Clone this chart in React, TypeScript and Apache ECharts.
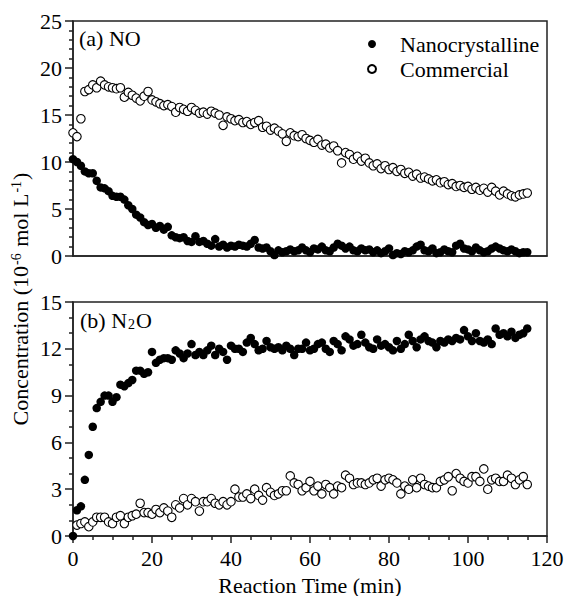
import React, { useEffect, useRef } from "react";
import * as echarts from "echarts";

// Sampling interval (minutes); value arrays are indexed from t = 0
const SAMPLE_MIN = 1;

const NO_NANO = [
  10.3, 10.0, 9.6, 9.0, 8.8, 8.8, 8.0, 7.3, 7.2, 6.9,
  6.4, 6.3, 6.3, 6.0, 5.4, 5.0, 4.4, 4.1, 3.6, 3.3,
  3.4, 3.0, 3.2, 2.8, 3.1, 2.2, 2.0, 1.9, 2.0, 1.6,
  1.5, 2.1, 1.5, 1.6, 1.3, 1.1, 1.8, 1.0, 1.2, 0.9,
  1.1, 1.0, 1.2, 1.1, 1.0, 1.3, 1.7, 0.9, 0.8, 0.9,
  0.5, 0.1, 0.6, 0.4, 0.5, 0.7, 0.5, 0.6, 0.9, 0.6,
  0.4, 0.8, 0.7, 1.0, 0.6, 0.5, 0.9, 1.3, 1.1, 0.8,
  1.0, 0.6, 0.5, 0.8, 0.6, 0.7, 0.4, 0.6, 0.3, 0.5,
  0.8, 0.1, 0.3, 0.2, 0.5, 0.4, 0.6, 1.0, 1.2, 0.6,
  0.5, 0.8, 0.3, 0.4, 0.7, 0.5, 0.4, 1.1, 1.3, 0.8,
  0.7, 0.5, 0.9, 0.6, 0.4, 0.5, 0.8, 1.0, 0.8, 0.6,
  0.5, 0.7, 0.5, 0.3, 0.4, 0.4,
];

const NO_COMM = [
  13.1, 12.7, 14.6, 17.5, 17.7, 18.2, 17.9, 18.6, 18.2, 18.0,
  17.9, 17.8, 17.9, 16.9, 17.4, 17.1, 16.8, 16.5, 17.0, 17.5,
  16.6, 16.4, 16.2, 16.0, 16.1, 15.9, 15.3, 15.8, 15.6, 15.4,
  15.8, 15.5, 15.2, 15.3, 15.1, 15.4, 15.2, 15.0, 13.9, 14.8,
  14.6, 14.4, 14.5, 14.2, 14.3, 14.0, 14.2, 14.4, 13.7, 13.8,
  13.4, 13.6, 13.3, 13.0, 12.2, 13.1, 12.8, 12.7, 12.9, 12.5,
  12.3, 12.1, 12.4, 11.8, 11.9, 11.5, 11.7, 11.2, 9.9, 11.0,
  10.8, 10.3, 10.6, 10.1, 10.4, 9.9, 9.6, 9.8, 9.3, 9.6,
  9.2, 9.4, 9.0, 9.2, 8.8, 8.9, 8.5, 8.7, 8.3, 8.4,
  8.2, 8.0, 8.1, 7.8, 7.9, 7.6, 7.7, 7.4, 7.5, 7.3,
  7.4, 7.1, 7.3, 7.0, 7.2, 6.8, 7.3, 6.9, 6.5, 6.9,
  6.6, 6.4, 6.3, 6.5, 6.6, 6.7,
];

const N2O_NANO = [
  0.0, 1.65, 1.9, 3.6, 5.2, 7.0, 8.2, 8.6, 9.0, 9.0,
  8.6, 8.9, 9.7, 9.6, 9.8, 10.0, 10.6, 10.6, 10.4, 10.5,
  11.8, 11.1, 11.3, 11.4, 11.4, 11.3, 11.9, 11.7, 11.4, 11.7,
  12.3, 11.6, 11.8, 11.6, 11.9, 12.2, 11.6, 12.0, 11.8, 11.3,
  12.2, 12.0, 12.0, 11.8, 12.4, 12.7, 12.3, 11.9, 12.0, 12.5,
  12.1, 12.0, 12.1, 11.9, 12.2, 12.0, 11.6, 12.0, 12.0, 12.4,
  11.9, 12.0, 12.3, 12.4, 12.0, 11.8, 12.5, 12.3, 11.9, 12.8,
  12.6, 12.2, 12.3, 12.9, 12.4, 12.1, 12.0, 12.6, 12.2, 12.3,
  12.1, 11.9, 12.5, 12.0, 12.3, 12.9, 12.5, 12.1, 12.6, 12.8,
  12.5, 12.4, 12.1, 12.5, 12.4, 12.6, 12.5, 12.7, 12.6, 13.2,
  12.8, 12.5, 13.0, 12.5, 12.4, 12.6, 12.3, 13.3, 12.9, 13.0,
  12.8, 13.1, 12.7, 12.9, 13.0, 13.3,
];

const N2O_COMM: (number | null)[] = [
  null, 0.7, 0.8, 0.9, 0.6, 0.9, 1.2, 1.2, 1.2, 0.9,
  0.8, 1.2, 1.3, 0.8, 1.2, 1.3, 1.4, 2.1, 1.5, 1.5,
  1.4, 1.7, 1.5, 1.8, 1.6, 1.2, 2.0, 1.8, 2.4, 2.0,
  2.4, 2.2, 1.6, 2.2, 2.2, 2.4, 2.1, 2.0, 2.2, 2.0,
  2.2, 3.0, 2.5, 2.5, 2.7, 2.4, 3.0, 2.6, 2.3, 3.1,
  2.8, 2.6, 2.7, 2.9, 2.9, 3.85, 3.4, 3.3, 2.9, 3.1,
  3.5, 2.9, 3.2, 2.7, 3.3, 3.1, 2.7, 3.2, 3.1, 3.9,
  3.7, 3.3, 3.4, 3.4, 3.3, 3.4, 3.6, 3.7, 3.2, 3.6,
  3.7, 3.6, 3.4, 2.7, 3.2, 3.0, 3.6, 3.1, 3.7, 3.3,
  3.2, 3.1, 3.1, 3.5, 3.6, 3.8, 2.9, 4.0, 3.7, 3.5,
  3.4, 3.8, 3.8, 3.5, 4.3, 3.0, 3.6, 3.7, 3.5, 3.5,
  3.9, 3.7, 3.3, 3.6, 3.8, 3.3,
];

const X_RANGE = [0, 120];
const X_INTERVAL = 20;
const Y_TOP_RANGE = [0, 25];
const Y_TOP_INTERVAL = 5;
const Y_BOT_RANGE = [0, 15];
const Y_BOT_INTERVAL = 3;

const SERIES_NAMES = ["Nanocrystalline", "Commercial"];

const FONT = "'Liberation Serif', 'DejaVu Serif', serif";
const AX = "#222";

function toPairs(arr: (number | null)[]) {
  const out: number[][] = [];
  arr.forEach((v, i) => {
    if (v !== null && v !== undefined) out.push([i * SAMPLE_MIN, v]);
  });
  return out;
}

export default function App() {
  const ref = useRef<HTMLDivElement>(null);

  useEffect(() => {
    document.body.style.margin = "0";
    if (!ref.current) return;
    const chart = echarts.init(ref.current, null, { renderer: "svg" });

    const lineStyle = { color: AX, width: 1.5 };
    const label = { fontFamily: FONT, fontSize: 22, color: "#000" };

    const nanoStyle = {
      symbol: "circle",
      symbolSize: 8.5,
      itemStyle: { color: "#000", borderColor: "#000", borderWidth: 0, opacity: 1 },
    };
    const commStyle = {
      symbol: "circle",
      symbolSize: 8.5,
      itemStyle: { color: "#fff", borderColor: "#000", borderWidth: 1.1, opacity: 1 },
    };

    chart.setOption({
      animation: false,
      backgroundColor: "#fff",
      textStyle: { fontFamily: FONT },
      grid: [
        {
          left: 73, top: 21, width: 474, height: 235,
          show: true, borderColor: AX, borderWidth: 1.5, backgroundColor: "transparent",
        },
        {
          left: 73, top: 302, width: 474, height: 234,
          show: true, borderColor: AX, borderWidth: 1.5, backgroundColor: "transparent",
        },
      ],
      legend: {
        data: SERIES_NAMES,
        orient: "vertical",
        left: 362,
        top: 28,
        itemWidth: 8,
        itemHeight: 8,
        itemGap: 3,
        textStyle: { ...label, lineHeight: 22, padding: [0, 0, 0, 19] },
        selectedMode: false,
      },
      xAxis: [
        {
          gridIndex: 0, type: "value", min: X_RANGE[0], max: X_RANGE[1], interval: X_INTERVAL,
          axisLine: { show: true, lineStyle },
          axisTick: { show: false },
          axisLabel: { show: false },
          splitLine: { show: false },
        },
        {
          gridIndex: 1, type: "value", min: X_RANGE[0], max: X_RANGE[1], interval: X_INTERVAL,
          axisLine: { show: true, lineStyle },
          axisTick: { show: true, length: 7, lineStyle },
          minorTick: { show: true, splitNumber: 4, length: 4, lineStyle },
          axisLabel: { ...label, margin: 11 },
          splitLine: { show: false },
        },
      ],
      yAxis: [
        {
          gridIndex: 0, type: "value", min: Y_TOP_RANGE[0], max: Y_TOP_RANGE[1], interval: Y_TOP_INTERVAL,
          axisLine: { show: true, lineStyle },
          axisTick: { show: true, length: 8, lineStyle },
          minorTick: { show: true, splitNumber: 5, length: 4, lineStyle },
          axisLabel: { ...label, margin: 11 },
          splitLine: { show: false },
        },
        {
          gridIndex: 1, type: "value", min: Y_BOT_RANGE[0], max: Y_BOT_RANGE[1], interval: Y_BOT_INTERVAL,
          axisLine: { show: true, lineStyle },
          axisTick: { show: true, length: 8, lineStyle },
          minorTick: { show: true, splitNumber: 3, length: 4, lineStyle },
          axisLabel: { ...label, margin: 11 },
          splitLine: { show: false },
        },
      ],
      series: [
        { name: SERIES_NAMES[1], type: "scatter", xAxisIndex: 0, yAxisIndex: 0, data: toPairs(NO_COMM), ...commStyle },
        { name: SERIES_NAMES[0], type: "scatter", xAxisIndex: 0, yAxisIndex: 0, data: toPairs(NO_NANO), ...nanoStyle },
        { name: SERIES_NAMES[1], type: "scatter", xAxisIndex: 1, yAxisIndex: 1, data: toPairs(N2O_COMM), ...commStyle },
        { name: SERIES_NAMES[0], type: "scatter", xAxisIndex: 1, yAxisIndex: 1, data: toPairs(N2O_NANO), ...nanoStyle },
      ],
      graphic: [
        {
          type: "text", x: 79, y: 38.5,
          style: { text: "(a) NO", fontFamily: FONT, fontSize: 22, fill: "#000", verticalAlign: "middle", align: "left" },
        },
        {
          type: "text", x: 80, y: 320,
          style: {
            text: "(b) N{sub|2}O",
            fontFamily: FONT, fontSize: 22, fill: "#000", verticalAlign: "middle", align: "left",
            rich: { sub: { fontFamily: FONT, fontSize: 14, verticalAlign: "bottom", fill: "#000", padding: [0, 1, 0, 1] } },
          },
        },
        {
          type: "text", x: 310, y: 585,
          style: { text: "Reaction Time (min)", fontFamily: FONT, fontSize: 22, fill: "#000", verticalAlign: "middle", align: "center" },
        },
        {
          type: "text", x: 20, y: 299, rotation: Math.PI / 2,
          style: {
            text: "Concentration (10{sup|-6} mol L{sup|-1})",
            fontFamily: FONT, fontSize: 22, fill: "#000", verticalAlign: "middle", align: "center",
            rich: { sup: { fontFamily: FONT, fontSize: 14, verticalAlign: "top", fill: "#000", padding: [0, 1, 0, 1] } },
          },
        },
      ],
    });

    return () => chart.dispose();
  }, []);

  return <div ref={ref} style={{ width: 567, height: 596 }} />;
}
